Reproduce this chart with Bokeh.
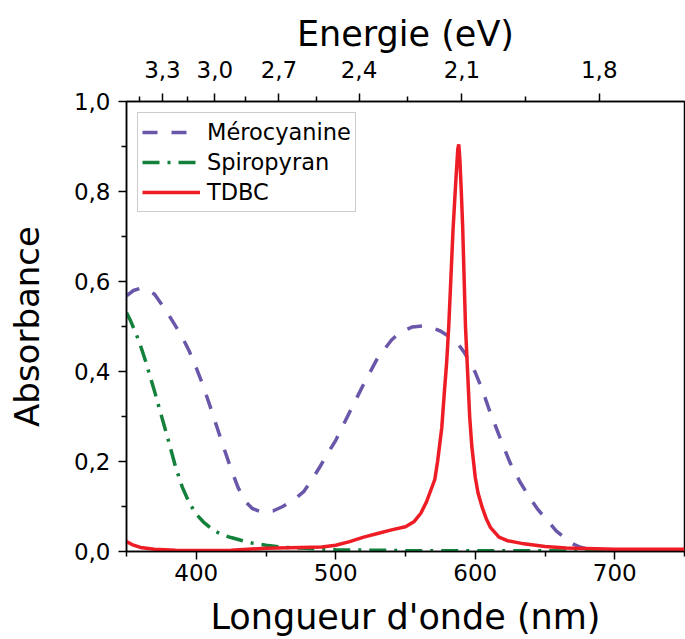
from bokeh.plotting import figure
from bokeh.models import (LinearAxis, FixedTicker, CustomJSTickFormatter, Range1d,
                          Legend, LegendItem)
from bokeh.embed import file_html
from bokeh.resources import INLINE

FONT = "DejaVu Sans"

# ---- data ----
wl_mero = [350, 355, 360, 365, 370, 375, 380, 385, 390, 395, 400, 405, 410, 415, 420,
           425, 430, 435, 440, 447, 455, 462, 470, 477, 483, 489, 495, 500, 510, 520,
           530, 540, 546, 555, 562, 568, 575, 582, 588, 592, 596, 600, 605, 610, 615,
           620, 625, 632, 640, 645, 652, 658, 665, 670, 675, 682, 690, 720, 750]
abs_mero = [0.568, 0.580, 0.585, 0.580, 0.572, 0.550, 0.527, 0.502, 0.476, 0.445,
            0.408, 0.368, 0.322, 0.275, 0.228, 0.183, 0.142, 0.112, 0.096, 0.087,
            0.090, 0.100, 0.115, 0.133, 0.160, 0.190, 0.222, 0.247, 0.310, 0.372,
            0.430, 0.470, 0.487, 0.499, 0.501, 0.498, 0.490, 0.476, 0.460, 0.443,
            0.421, 0.398, 0.360, 0.315, 0.275, 0.235, 0.197, 0.155, 0.115, 0.093,
            0.068, 0.046, 0.028, 0.017, 0.010, 0.004, 0.003, 0.002, 0.002]

wl_spiro = [350, 353, 357, 360, 364, 367, 370, 375, 380, 385, 390, 395, 400, 405, 412,
            418, 425, 432, 441, 450, 460, 470, 480, 500, 550, 600, 650, 700, 750]
abs_spiro = [0.531, 0.512, 0.483, 0.458, 0.420, 0.388, 0.357, 0.302, 0.247, 0.190,
             0.143, 0.108, 0.083, 0.066, 0.048, 0.038, 0.031, 0.025, 0.018, 0.014,
             0.010, 0.008, 0.007, 0.004, 0.002, 0.0015, 0.0015, 0.001, 0.001]

wl_tdbc = [350, 355, 360, 370, 385, 400, 425, 450, 475, 490, 500, 510, 520, 530, 540,
           550, 556, 561, 565, 568, 571, 573, 576, 578, 579.5, 581, 582, 584, 586, 587.5,
           588.2, 589, 590, 591, 592, 593, 594.5, 596, 597.5, 600, 602, 605, 608, 611, 617,
           623, 635, 650, 665, 700, 750]
abs_tdbc = [0.022, 0.014, 0.009, 0.005, 0.003, 0.002, 0.003, 0.007, 0.009, 0.010,
            0.014, 0.022, 0.032, 0.040, 0.048, 0.055, 0.066, 0.085, 0.110, 0.135,
            0.160, 0.200, 0.275, 0.360, 0.420, 0.500, 0.570, 0.710, 0.820, 0.895,
            0.905, 0.870, 0.800, 0.720, 0.610, 0.500, 0.400, 0.300, 0.235, 0.165,
            0.130, 0.098, 0.072, 0.053, 0.032, 0.024, 0.017, 0.011, 0.008, 0.005, 0.005]

series_names = ["Mérocyanine", "Spiropyran", "TDBC"]

nm_major = [400, 500, 600, 700]
nm_minor = [350, 450, 550, 650, 750]
abs_major = [0.0, 0.2, 0.4, 0.6, 0.8, 1.0]
abs_minor = [0.1, 0.3, 0.5, 0.7, 0.9]
ev_major = [3.3, 3.0, 2.7, 2.4, 2.1, 1.8]
ev_minor = [3.45, 3.15, 2.85, 2.55, 2.25, 1.95]
HC = 1240.0  # eV*nm

# ---- figure ----
p = figure(width=685, height=639, x_range=Range1d(350, 750), y_range=Range1d(0, 1),
           output_backend="svg", toolbar_location=None,
           min_border_left=126, min_border_right=1, min_border_top=101, min_border_bottom=88)
p.xgrid.grid_line_color = None
p.ygrid.grid_line_color = None
p.outline_line_color = "black"
p.outline_line_width = 1.5
p.outline_line_alpha = 1.0
p.background_fill_color = "white"
p.border_fill_color = "white"

r1 = p.line(wl_mero, abs_mero, line_color="#6b57aa", line_width=3.5, line_dash="15 14")
r2 = p.line(wl_spiro, abs_spiro, line_color="#13803c", line_width=3.5, line_dash="17 8 3 8")
r3 = p.line(wl_tdbc, abs_tdbc, line_color="#ee1d25", line_width=3.5)


def style(ax, label_size="23px", title_size="35px"):
    ax.axis_line_width = 1.5
    ax.axis_line_color = "black"
    ax.major_tick_line_width = 1.5
    ax.minor_tick_line_width = 1.5
    ax.major_tick_line_color = "black"
    ax.minor_tick_line_color = "black"
    ax.major_tick_in = 0
    ax.major_tick_out = 8
    ax.minor_tick_in = 0
    ax.minor_tick_out = 5
    ax.major_label_text_font = FONT
    ax.major_label_text_font_size = label_size
    ax.major_label_text_color = "black"
    ax.axis_label_text_font = FONT
    ax.axis_label_text_font_size = title_size
    ax.axis_label_text_font_style = "normal"
    ax.axis_label_text_color = "black"


xb = p.below[0]
xb.ticker = FixedTicker(ticks=nm_major, minor_ticks=nm_minor)
xb.axis_label = "Longueur d'onde (nm)"
style(xb)
xb.major_label_standoff = 4
xb.axis_label_standoff = 13

yl = p.left[0]
yl.ticker = FixedTicker(ticks=abs_major, minor_ticks=abs_minor)
yl.formatter = CustomJSTickFormatter(code="return tick.toFixed(1).replace('.', ',');")
yl.axis_label = "Absorbance"
style(yl, title_size="34px")
yl.major_label_standoff = 8
yl.axis_label_standoff = 24

xt = LinearAxis(ticker=FixedTicker(ticks=[HC / e for e in ev_major],
                                   minor_ticks=[HC / e for e in ev_minor]),
                formatter=CustomJSTickFormatter(
                    code="return (1240/tick).toFixed(1).replace('.', ',');"),
                axis_label="Energie (eV)")
style(xt)
xt.major_label_standoff = 16
xt.axis_label_standoff = 4
p.add_layout(xt, "above")

legend = Legend(items=[LegendItem(label=series_names[0], renderers=[r1]),
                       LegendItem(label=series_names[1], renderers=[r2]),
                       LegendItem(label=series_names[2], renderers=[r3])],
                location="top_left", margin=11, padding=4, spacing=0,
                glyph_width=58, glyph_height=30, label_height=30, label_standoff=7,
                label_text_font=FONT, label_text_font_size="22.5px",
                label_text_color="black",
                border_line_color="#999999", border_line_width=1.5,
                background_fill_color="white", background_fill_alpha=1.0)
p.add_layout(legend)

open("out.html", "w").write(file_html(p, INLINE, title="Absorbance"))
